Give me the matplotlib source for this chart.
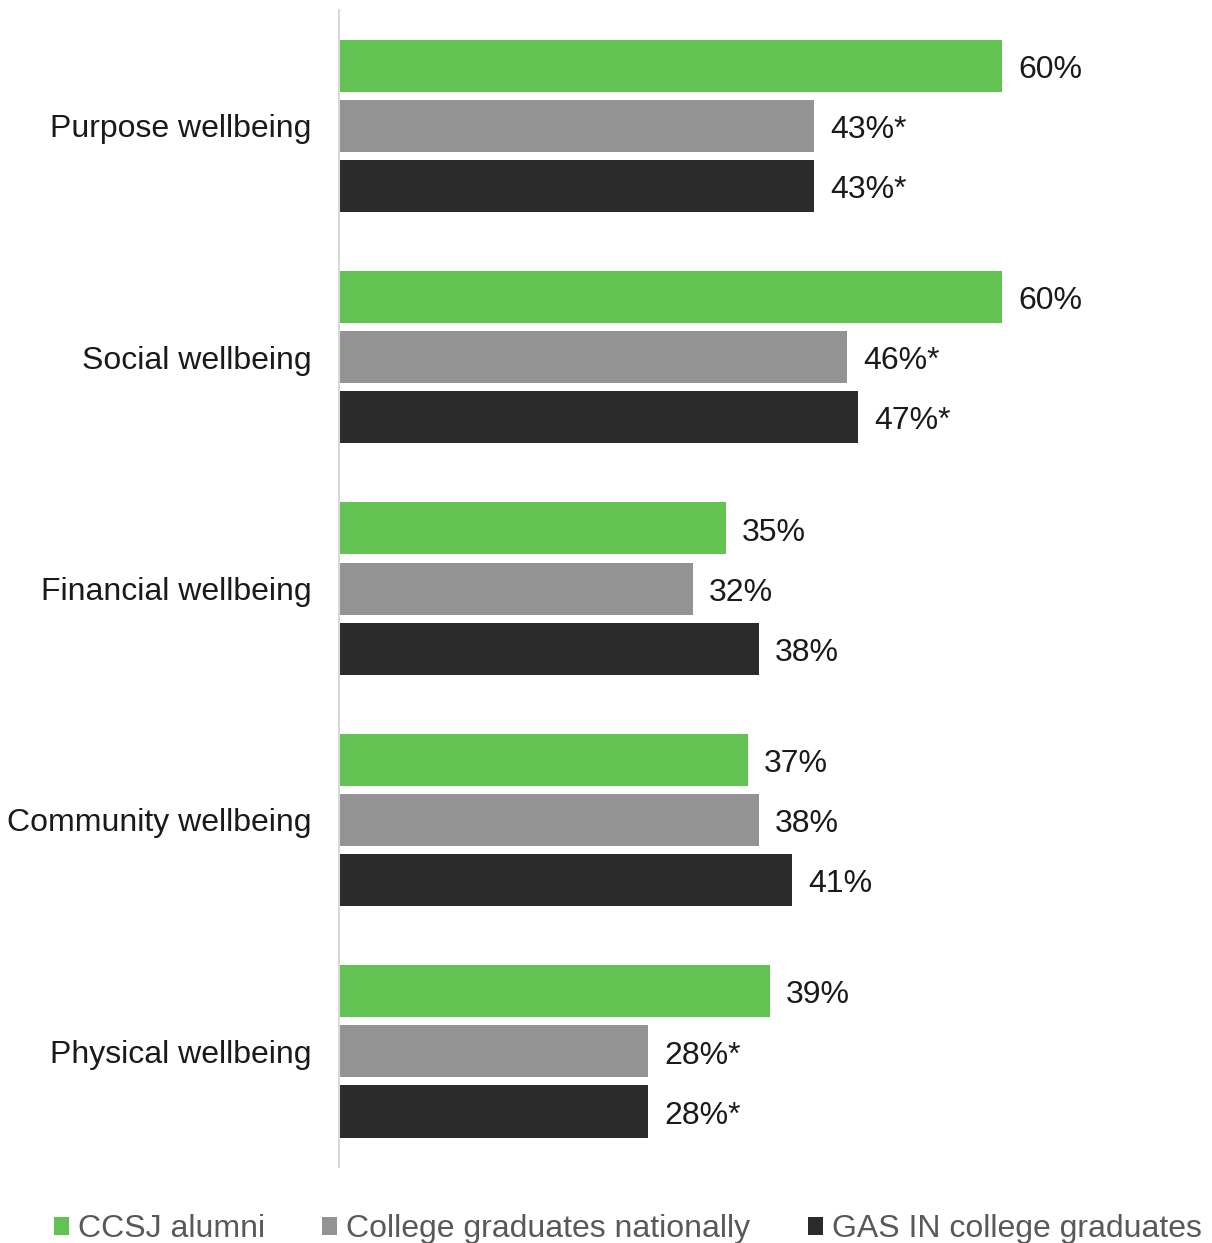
import matplotlib.pyplot as plt
import numpy as np
from matplotlib.patches import Patch

plt.rcParams['font.family'] = ['Liberation Sans', 'DejaVu Sans']

# data
categories = ['Purpose wellbeing', 'Social wellbeing', 'Financial wellbeing',
              'Community wellbeing', 'Physical wellbeing']
series = ['CCSJ alumni', 'College graduates nationally', 'GAS IN college graduates']
ccsj = [60, 60, 35, 37, 39]
national = [43, 46, 32, 38, 28]
gas_in = [43, 47, 38, 41, 28]
ccsj_lbl = ['60%', '60%', '35%', '37%', '39%']
national_lbl = ['43%*', '46%*', '32%', '38%', '28%*']
gas_in_lbl = ['43%*', '47%*', '38%', '41%', '28%*']

colors = ['#62C353', '#939393', '#2B2B2B']

fig = plt.figure(figsize=(12.12, 12.43), dpi=100)
ax = fig.add_axes([0.2797, 0.0611, 0.6383, 0.9308])

y = np.arange(len(categories))
h = 0.225
off = 0.26
fs = 23

for vals, lbls, col, dy in zip([ccsj, national, gas_in],
                               [ccsj_lbl, national_lbl, gas_in_lbl],
                               colors, [-off, 0, off]):
    bars = ax.barh(y + dy, vals, height=h, color=col)
    for b, t in zip(bars, lbls):
        ax.annotate(t, (b.get_width(), b.get_y() + b.get_height() / 2),
                    xytext=(11.5, -3), textcoords='offset points',
                    va='center', ha='left', fontsize=fs, color='#1a1a1a')

ax.set_xlim(0, 70)
ax.set_ylim(len(categories) - 0.5, -0.5)
ax.set_yticks(y)
ax.set_yticklabels(categories, fontsize=fs, color='#1a1a1a')
ax.tick_params(axis='y', length=0, pad=20)
ax.set_xticks([])
for s in ['top', 'right', 'bottom']:
    ax.spines[s].set_visible(False)
ax.spines['left'].set_color('#D9D9D9')
ax.spines['left'].set_linewidth(1.5)

handles = [Patch(facecolor=c, label=s) for c, s in zip(colors, series)]
leg = fig.legend(handles=handles, loc='center', bbox_to_anchor=(0.518, 0.011),
                 ncol=3, frameon=False, fontsize=fs, handlelength=0.47,
                 handleheight=0.47, handletextpad=0.28, columnspacing=1.8,
                 borderpad=0)
for t in leg.get_texts():
    t.set_color('#595959')

fig.savefig('out.png', dpi=100)
